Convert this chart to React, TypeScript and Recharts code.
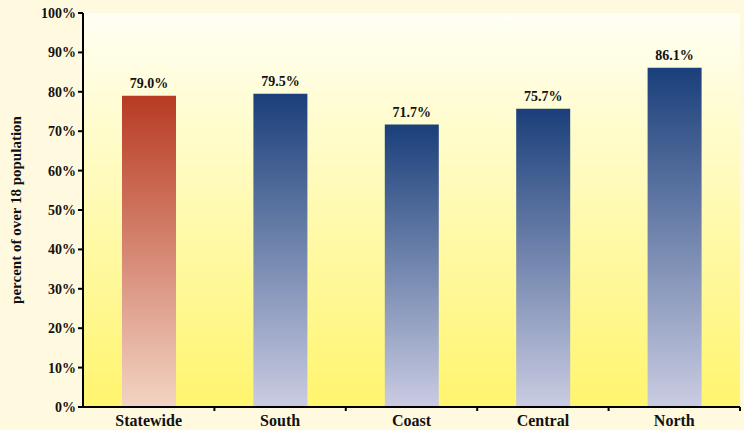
import { BarChart, Bar, XAxis, YAxis, Cell, LabelList, CartesianGrid } from 'recharts';

const regions = ['Statewide', 'South', 'Coast', 'Central', 'North'];
const shares = [79.0, 79.5, 71.7, 75.7, 86.1];
const yTicks = [0, 10, 20, 30, 40, 50, 60, 70, 80, 90, 100];

const data = regions.map((name, i) => ({ name, value: shares[i] }));

const FONT = '"Liberation Serif", "Times New Roman", serif';
const TICK_SIZE = 4;
const TICK_MARGIN = 4;

// category label plus a tick mark on the right edge of its band
function RegionTick(props: any) {
  const { x, y, payload } = props;
  const half = payload.offset || (744 - 83 - 4) / regions.length / 2;
  const bx = x + half;
  const top = y - TICK_MARGIN - TICK_SIZE;
  return (
    <g>
      <line x1={bx} x2={bx} y1={top} y2={top + TICK_SIZE} stroke="#000" strokeWidth={2} />
      <text x={x} y={y} dy="0.71em" textAnchor="middle" fill="#111"
        style={{ fontFamily: FONT, fontWeight: 'bold', fontSize: 16 }}>
        {payload.value}
      </text>
    </g>
  );
}

export default function App() {
  return (
    <div style={{ position: 'absolute', left: 0, top: 0, width: 744, height: 430, background: '#FFF9DF' }}>
      {/* gradients shared by the chart */}
      <svg width={0} height={0} style={{ position: 'absolute' }}>
        <defs>
          <linearGradient id="plotBg" x1="0" y1="0" x2="0" y2="1">
            <stop offset="0%" stopColor="#FFFFF4" />
            <stop offset="100%" stopColor="#FFF56E" />
          </linearGradient>
          <linearGradient id="redBar" x1="0" y1="0" x2="0" y2="1">
            <stop offset="0%" stopColor="#B83A22" />
            <stop offset="100%" stopColor="#F3D4C4" />
          </linearGradient>
          <linearGradient id="blueBar" x1="0" y1="0" x2="0" y2="1">
            <stop offset="0%" stopColor="#1A3F7A" />
            <stop offset="100%" stopColor="#CACCE2" />
          </linearGradient>
        </defs>
      </svg>
      <BarChart
        width={744}
        height={430}
        data={data}
        margin={{ top: 13, right: 4, bottom: 0, left: 0 }}
        barCategoryGap="30%"
      >
        <CartesianGrid fill="url(#plotBg)" horizontal={false} vertical={false} />
        <XAxis
          dataKey="name"
          height={23}
          axisLine={{ stroke: '#000', strokeWidth: 2 }}
          tickLine={false}
          tickSize={TICK_SIZE}
          tickMargin={TICK_MARGIN}
          interval={0}
          tick={<RegionTick />}
        />
        <XAxis xAxisId="top" dataKey="name" orientation="top" height={0} tick={false} tickLine={false}
          axisLine={{ stroke: '#222', strokeWidth: 1.5 }} />
        <YAxis
          domain={[0, 100]}
          ticks={yTicks}
          width={83}
          axisLine={{ stroke: '#000', strokeWidth: 2 }}
          tickLine={{ stroke: '#000', strokeWidth: 2 }}
          tickSize={5}
          tickFormatter={(v: number) => `${v}%`}
          tick={{ fill: '#111', fontFamily: FONT, fontWeight: 'bold', fontSize: 14 }}
          label={{
            value: 'percent of over 18 population',
            angle: -90,
            position: 'insideLeft',
            offset: 16,
            style: { textAnchor: 'middle', fill: '#111', fontFamily: FONT, fontWeight: 'bold', fontSize: 15 },
          }}
        />
        <YAxis yAxisId="right" orientation="right" width={0} tick={false} tickLine={false}
          axisLine={{ stroke: '#222', strokeWidth: 2 }} />
        <Bar dataKey="value" isAnimationActive={false} barSize={54}>
          {data.map((_, index) => (
            <Cell key={`cell-${index}`} fill={index === 0 ? 'url(#redBar)' : 'url(#blueBar)'} />
          ))}
          <LabelList
            dataKey="value"
            position="top"
            offset={8}
            formatter={(v: number) => `${v.toFixed(1)}%`}
            style={{ fill: '#111', fontFamily: FONT, fontWeight: 'bold', fontSize: 14 }}
          />
        </Bar>
      </BarChart>
    </div>
  );
}
